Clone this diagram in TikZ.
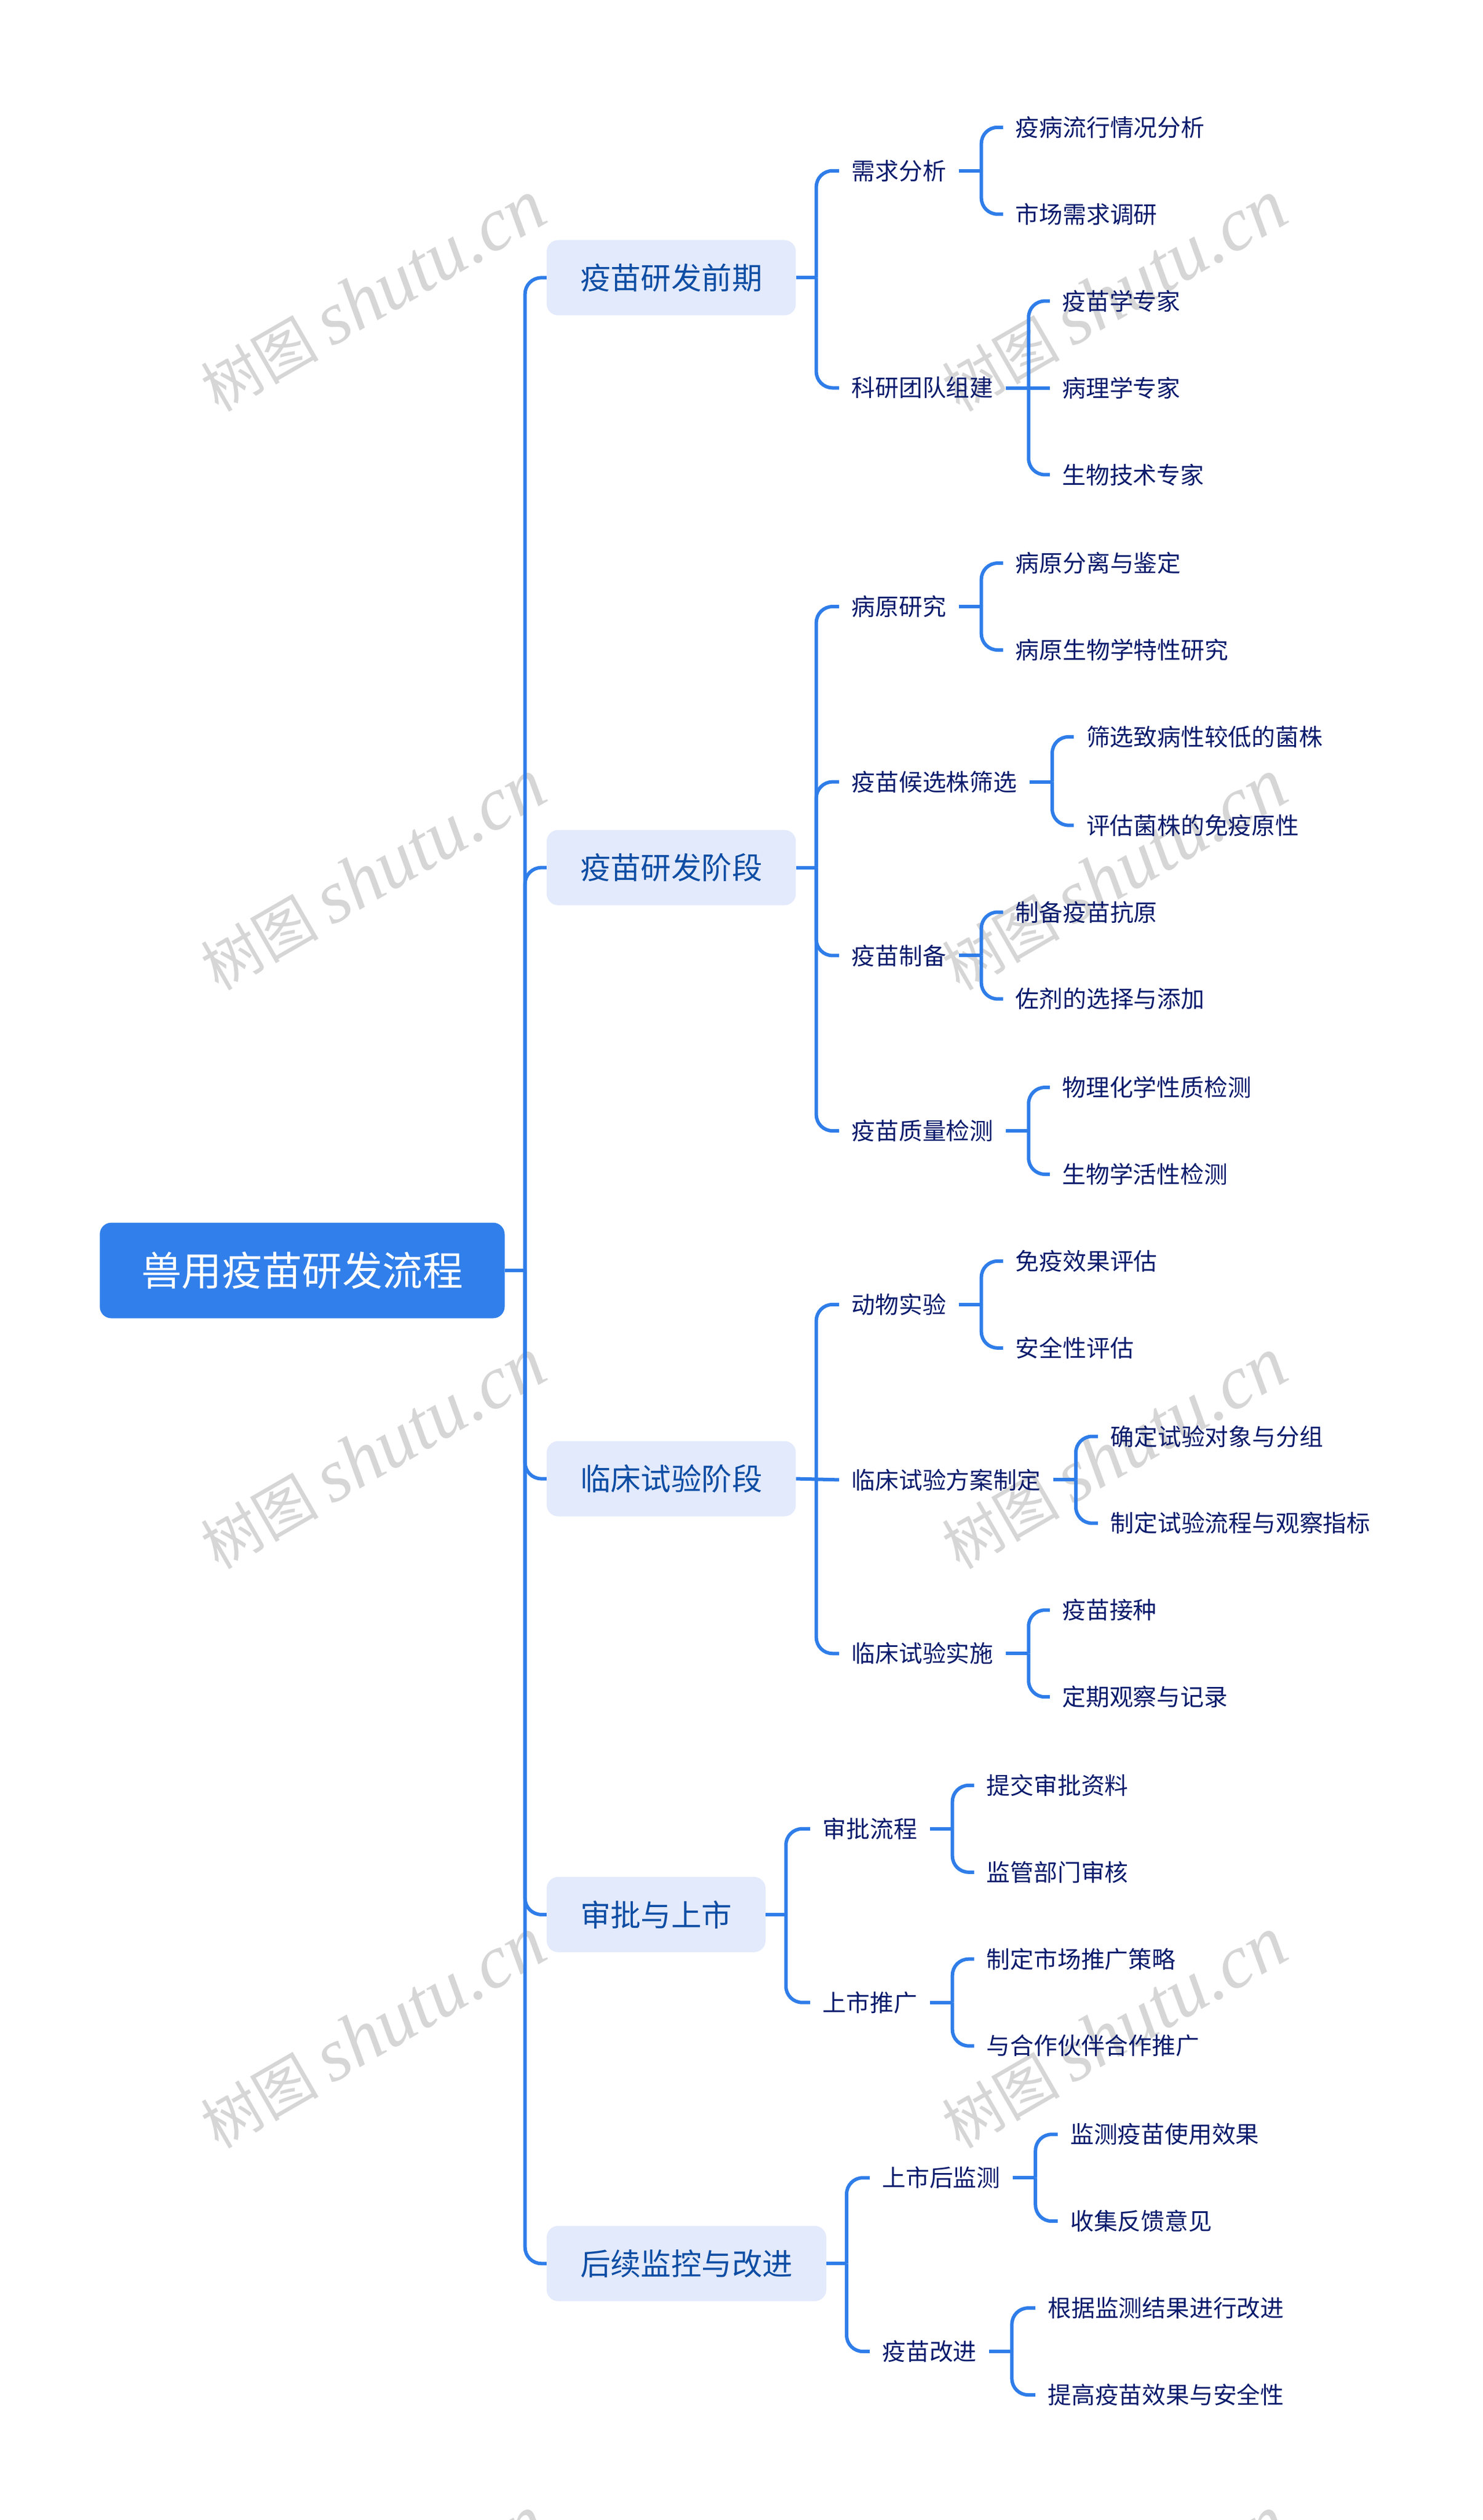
\documentclass[tikz,border=0pt]{standalone}
\usepackage{fontspec}
\usetikzlibrary{calc}
\setmainfont{Noto Sans CJK SC}
\newfontfamily\wmlatin{Liberation Serif}
\definecolor{linkblue}{HTML}{2F7DE9}
\definecolor{rootblue}{HTML}{317FEA}
\definecolor{topicfill}{HTML}{E3EAFB}
\definecolor{topictext}{HTML}{0E4DA4}
\definecolor{subtext}{HTML}{0B1B6C}
\definecolor{wmgray}{HTML}{D6D6D6}
\tikzset{
	rootnode/.style={anchor=west,fill=rootblue,text=white,rounded corners=20pt,minimum height=165pt,inner xsep=72pt,inner ysep=0pt,font=\fontsize{69.4}{80}\selectfont},
	topic/.style={anchor=west,fill=topicfill,text=topictext,rounded corners=20pt,minimum height=130pt,inner xsep=58pt,inner ysep=0pt,font=\fontsize{52.4}{60}\selectfont},
	sub/.style={anchor=west,text=subtext,inner xsep=21.5pt,inner ysep=0pt,yshift=-0.5pt,font=\fontsize{40.8}{48}\selectfont},
	link/.style={draw=linkblue,line width=6pt,rounded corners=28pt},
	wm/.style={text=wmgray,rotate=30,inner sep=0pt,font=\fontsize{102}{120}\selectfont}
}
\begin{document}
\begin{tikzpicture}[x=2.776pt,y=-2.776pt]
	\useasboundingbox (0,0) rectangle (922.2,1567);
	% watermarks
	\foreach \wy in {184,544,904,1264,1624}
		\foreach \wx in {232,693}
			\node[wm] at (\wx,\wy) {树图\hspace{22pt}{\wmlatin\itshape\fontsize{130}{140}\selectfont shutu.cn}};
	% nodes
	\node[rootnode] (root) at (62,790) {兽用疫苗研发流程};
	\node[topic] (t1) at (340,172.7) {疫苗研发前期};
	\node[topic] (t2) at (340,539.5) {疫苗研发阶段};
	\node[topic] (t3) at (340,919.5) {临床试验阶段};
	\node[topic] (t4) at (340,1190.5) {审批与上市};
	\node[topic] (t5) at (340,1407.5) {后续监控与改进};
	\node[sub] (a1) at (522,106) {需求分析};
	\node[sub] (a2) at (522,241) {科研团队组建};
	\node[sub] (b1) at (522,377) {病原研究};
	\node[sub] (b2) at (522,486) {疫苗候选株筛选};
	\node[sub] (b3) at (522,594) {疫苗制备};
	\node[sub] (b4) at (522,703) {疫苗质量检测};
	\node[sub] (c1) at (522,811) {动物实验};
	\node[sub] (c2) at (522,920) {临床试验方案制定};
	\node[sub] (c3) at (522,1028) {临床试验实施};
	\node[sub] (d1) at (504,1137) {审批流程};
	\node[sub] (d2) at (504,1245) {上市推广};
	\node[sub] (e1) at (541,1354) {上市后监测};
	\node[sub] (e2) at (541,1462) {疫苗改进};
	\node[sub] (a11) at (624,79) {疫病流行情况分析};
	\node[sub] (a12) at (624,133) {市场需求调研};
	\node[sub] (a21) at (653,187) {疫苗学专家};
	\node[sub] (a22) at (653,241) {病理学专家};
	\node[sub] (a23) at (653,295) {生物技术专家};
	\node[sub] (b11) at (624,350) {病原分离与鉴定};
	\node[sub] (b12) at (624,404) {病原生物学特性研究};
	\node[sub] (b21) at (668,458) {筛选致病性较低的菌株};
	\node[sub] (b22) at (668,513) {评估菌株的免疫原性};
	\node[sub] (b31) at (624,567) {制备疫苗抗原};
	\node[sub] (b32) at (624,621) {佐剂的选择与添加};
	\node[sub] (b41) at (653,676) {物理化学性质检测};
	\node[sub] (b42) at (653,730) {生物学活性检测};
	\node[sub] (c11) at (624,784) {免疫效果评估};
	\node[sub] (c12) at (624,838) {安全性评估};
	\node[sub] (c21) at (683,893) {确定试验对象与分组};
	\node[sub] (c22) at (683,947) {制定试验流程与观察指标};
	\node[sub] (c31) at (653,1001) {疫苗接种};
	\node[sub] (c32) at (653,1055) {定期观察与记录};
	\node[sub] (d11) at (606,1110) {提交审批资料};
	\node[sub] (d12) at (606,1164) {监管部门审核};
	\node[sub] (d21) at (606,1218) {制定市场推广策略};
	\node[sub] (d22) at (606,1272) {与合作伙伴合作推广};
	\node[sub] (e11) at (658,1327) {监测疫苗使用效果};
	\node[sub] (e12) at (658,1381) {收集反馈意见};
	\node[sub] (e21) at (644,1435) {根据监测结果进行改进};
	\node[sub] (e22) at (644,1489) {提高疫苗效果与安全性};
	% junctions
	\coordinate (jroot) at ([xshift=35pt]root.east);
	\coordinate (jt1) at ([xshift=35pt]t1.east);
	\coordinate (jt2) at ([xshift=35pt]t2.east);
	\coordinate (jt3) at ([xshift=35pt]t3.east);
	\coordinate (jt4) at ([xshift=35pt]t4.east);
	\coordinate (jt5) at ([xshift=35pt]t5.east);
	\coordinate (ja1) at ([xshift=39pt]a1.east);
	\coordinate (ja2) at ([xshift=39pt]a2.east);
	\coordinate (jb1) at ([xshift=39pt]b1.east);
	\coordinate (jb2) at ([xshift=39pt]b2.east);
	\coordinate (jb3) at ([xshift=39pt]b3.east);
	\coordinate (jb4) at ([xshift=39pt]b4.east);
	\coordinate (jc1) at ([xshift=39pt]c1.east);
	\coordinate (jc2) at ([xshift=39pt]c2.east);
	\coordinate (jc3) at ([xshift=39pt]c3.east);
	\coordinate (jd1) at ([xshift=39pt]d1.east);
	\coordinate (jd2) at ([xshift=39pt]d2.east);
	\coordinate (je1) at ([xshift=39pt]e1.east);
	\coordinate (je2) at ([xshift=39pt]e2.east);
	% root to topics
	\draw[link] (root.east) -- (jroot);
	\draw[link] (jroot) |- (t1.west);
	\draw[link] (jroot) |- (t2.west);
	\draw[link] (jroot) |- (t3.west);
	\draw[link] (jroot) |- (t4.west);
	\draw[link] (jroot) |- (t5.west);
	% topics to subtopics
	\draw[link] (t1.east) -- (jt1);
	\draw[link] (jt1) |- (a1.west);
	\draw[link] (jt1) |- (a2.west);
	\draw[link] (t2.east) -- (jt2);
	\draw[link] (jt2) |- (b1.west);
	\draw[link] (jt2) |- (b2.west);
	\draw[link] (jt2) |- (b3.west);
	\draw[link] (jt2) |- (b4.west);
	\draw[link] (t3.east) -- (c2.west);
	\draw[link] (jt3) |- (c1.west);
	\draw[link] (jt3) |- (c3.west);
	\draw[link] (t4.east) -- (jt4);
	\draw[link] (jt4) |- (d1.west);
	\draw[link] (jt4) |- (d2.west);
	\draw[link] (t5.east) -- (jt5);
	\draw[link] (jt5) |- (e1.west);
	\draw[link] (jt5) |- (e2.west);
	% subtopics to leaves
	\draw[link] (a1.east) -- (ja1);
	\draw[link] (ja1) |- (a11.west);
	\draw[link] (ja1) |- (a12.west);
	\draw[link] (a2.east) -- (a22.west);
	\draw[link] (ja2) |- (a21.west);
	\draw[link] (ja2) |- (a23.west);
	\draw[link] (b1.east) -- (jb1);
	\draw[link] (jb1) |- (b11.west);
	\draw[link] (jb1) |- (b12.west);
	\draw[link] (b2.east) -- (jb2);
	\draw[link] (jb2) |- (b21.west);
	\draw[link] (jb2) |- (b22.west);
	\draw[link] (b3.east) -- (jb3);
	\draw[link] (jb3) |- (b31.west);
	\draw[link] (jb3) |- (b32.west);
	\draw[link] (b4.east) -- (jb4);
	\draw[link] (jb4) |- (b41.west);
	\draw[link] (jb4) |- (b42.west);
	\draw[link] (c1.east) -- (jc1);
	\draw[link] (jc1) |- (c11.west);
	\draw[link] (jc1) |- (c12.west);
	\draw[link] (c2.east) -- (jc2);
	\draw[link] (jc2) |- (c21.west);
	\draw[link] (jc2) |- (c22.west);
	\draw[link] (c3.east) -- (jc3);
	\draw[link] (jc3) |- (c31.west);
	\draw[link] (jc3) |- (c32.west);
	\draw[link] (d1.east) -- (jd1);
	\draw[link] (jd1) |- (d11.west);
	\draw[link] (jd1) |- (d12.west);
	\draw[link] (d2.east) -- (jd2);
	\draw[link] (jd2) |- (d21.west);
	\draw[link] (jd2) |- (d22.west);
	\draw[link] (e1.east) -- (je1);
	\draw[link] (je1) |- (e11.west);
	\draw[link] (je1) |- (e12.west);
	\draw[link] (e2.east) -- (je2);
	\draw[link] (je2) |- (e21.west);
	\draw[link] (je2) |- (e22.west);
\end{tikzpicture}
\end{document}
